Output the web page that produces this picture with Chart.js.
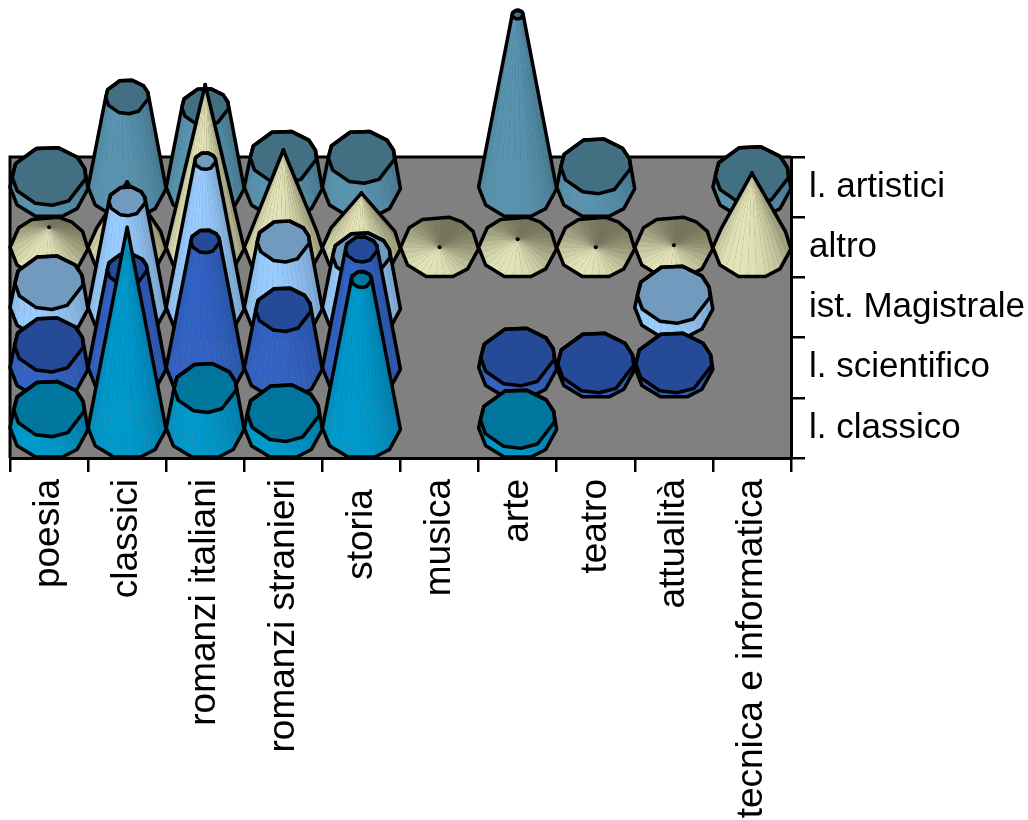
<!DOCTYPE html>
<html>
<head>
<meta charset="utf-8">
<title>Generi per scuola</title>
<script src="https://cdn.jsdelivr.net/npm/chart.js@4/dist/chart.umd.min.js"></script>
<style>
    html, body { margin: 0; padding: 0; background: #fff; overflow: hidden; }
    canvas { display: block; }
</style>
</head>
<body>
<canvas id="myChart" width="1028" height="820"></canvas>
<script>
const categories = ['poesia', 'classici', 'romanzi italiani', 'romanzi stranieri', 'storia ',
    'musica', 'arte', 'teatro', 'attualità', 'tecnica e informatica'];
const rows = ['l. artistici', 'altro', 'ist. Magistrale', 'l. scientifico', 'l. classico'];

// null = no cone at all, 0 = flat cone
const artistici   = [5.5, 45, 40, 15, 15, null, 86, 10.5, null, 6];
const altro       = [10, 32.5, 81, 48.5, 27, 0, 4, 0, 1, 37];
const magistrale  = [12.5, 53, 73, 33, 26, null, null, null, 6.5, null];
const scientifico = [11.5, 49, 63, 29, 59, null, 5.5, 2.5, 2.5, null];
const classico    = [9.5, 100, 20, 7.5, 74, null, 4.5, null, null, null];
const rowValues = [artistici, altro, magistrale, scientifico, classico];

// value at which a truncated cone would reach its tip
const coneMax = 100;

// light side, dark side, top cap
const palette = [
    { light: [88, 148, 176], dark: [62, 104, 124], cap: '#436f82' },
    { light: [228, 228, 184], dark: [116, 116, 90], cap: '#b8b890' },
    { light: [153, 204, 255], dark: [106, 142, 178], cap: '#729abf' },
    { light: [50, 98, 196], dark: [36, 76, 150], cap: '#254a97' },
    { light: [0, 153, 204], dark: [0, 108, 146], cap: '#00759e' }
];

// the polygon is rough, not a regular one
const baseAngles = [3, 44, 70, 110, 145, 180, 219, 244, 284, 306, 329];
const capAngles  = [5, 58, 85, 112, 150, 178, 205, 250, 284, 320, 345];

function ring(cx, cy, rx, ry, angles) {
    return angles.map(function (a) {
        const t = a * Math.PI / 180;
        return { x: cx + rx * Math.cos(t), y: cy + ry * Math.sin(t) };
    });
}

function lerp(a, b, t) {
    return { x: a.x + (b.x - a.x) * t, y: a.y + (b.y - a.y) * t };
}

function shade(col, deg) {
    const t = 0.5 + 0.5 * Math.cos((deg - 112) * Math.PI / 180);
    const c = col.dark.map(function (d, i) {
        return Math.round(d + (col.light[i] - d) * t);
    });
    return 'rgb(' + c.join(',') + ')';
}

function hull(points) {
    const p = points.slice().sort(function (a, b) { return a.x - b.x || a.y - b.y; });
    const cross = function (o, a, b) {
        return (a.x - o.x) * (b.y - o.y) - (a.y - o.y) * (b.x - o.x);
    };
    const lower = [], upper = [];
    p.forEach(function (q) {
        while (lower.length > 1 && cross(lower[lower.length - 2], lower[lower.length - 1], q) <= 0) lower.pop();
        lower.push(q);
    });
    p.slice().reverse().forEach(function (q) {
        while (upper.length > 1 && cross(upper[upper.length - 2], upper[upper.length - 1], q) <= 0) upper.pop();
        upper.push(q);
    });
    return lower.slice(0, -1).concat(upper.slice(0, -1));
}

function tracePolygon(ctx, pts) {
    ctx.beginPath();
    pts.forEach(function (p, i) {
        if (i === 0) ctx.moveTo(p.x, p.y); else ctx.lineTo(p.x, p.y);
    });
    ctx.closePath();
}

function drawCone(ctx, cx, cy, rx, ry, height, fraction, pointed, col) {
    const base = ring(cx, cy, rx, ry, baseAngles);
    const k = pointed ? 0 : 1 - fraction;
    const top = ring(cx, cy - height, rx * k, ry * k, capAngles);
    const n = base.length;
    const quads = [];
    for (let i = 0; i < n; i++) {
        const j = (i + 1) % n;
        const a0 = baseAngles[i];
        const a1 = j === 0 ? baseAngles[0] + 360 : baseAngles[j];
        for (let s = 0; s < 3; s++) {
            quads.push({
                mid: a0 + (a1 - a0) * (s + 0.5) / 3,
                pts: [lerp(base[i], base[j], s / 3), lerp(base[i], base[j], (s + 1) / 3),
                      lerp(top[i], top[j], (s + 1) / 3), lerp(top[i], top[j], s / 3)]
            });
        }
    }
    // back faces first
    quads.sort(function (a, b) {
        return Math.sin(a.mid * Math.PI / 180) - Math.sin(b.mid * Math.PI / 180);
    });
    quads.forEach(function (q) {
        tracePolygon(ctx, q.pts);
        ctx.fillStyle = shade(col, q.mid);
        ctx.fill();
    });
    if (!pointed) {
        tracePolygon(ctx, top);
        ctx.fillStyle = col.cap;
        ctx.fill();
    }
    ctx.strokeStyle = '#000';
    ctx.lineWidth = 3.5;
    ctx.lineJoin = 'round';
    tracePolygon(ctx, hull(base.concat(top)));
    ctx.stroke();
    if (pointed) {
        ctx.beginPath();
        ctx.arc(cx, cy - height, 2, 0, Math.PI * 2);
        ctx.fillStyle = '#000';
        ctx.fill();
    } else {
        tracePolygon(ctx, top);
        ctx.stroke();
    }
}

const conePlugin = {
    id: 'cones',
    beforeDraw: function (chart) {
        const area = chart.chartArea;
        chart.ctx.save();
        chart.ctx.fillStyle = '#808080';
        chart.ctx.fillRect(area.left, area.top, area.width, area.height);
        chart.ctx.restore();
    },
    afterDatasetsDraw: function (chart) {
        const ctx = chart.ctx;
        const area = chart.chartArea;
        const x = chart.scales.x;
        const y = chart.scales.y;
        const v = chart.scales.v;
        const rx = (x.getPixelForValue(1) - x.getPixelForValue(0)) * 0.5;
        const ry = (y.getPixelForValue(1) - y.getPixelForValue(0)) * 0.515;
        ctx.save();
        ctx.strokeStyle = '#000';
        ctx.lineWidth = 3;
        ctx.beginPath();
        ctx.moveTo(area.left, area.bottom);
        ctx.lineTo(area.left, area.top);
        ctx.lineTo(area.right, area.top);
        ctx.stroke();
        chart.data.datasets.forEach(function (ds, d) {
            const meta = chart.getDatasetMeta(d);
            ds.data.forEach(function (item, i) {
                if (item.v === null) return;
                const pt = meta.data[i];
                const h = v.getPixelForValue(0) - v.getPixelForValue(item.v);
                drawCone(ctx, pt.x, pt.y, rx, ry, h, item.v / coneMax, ds.pointed, palette[d]);
            });
        });
        ctx.restore();
    }
};

const ctx = document.getElementById('myChart').getContext('2d');
new Chart(ctx, {
    type: 'scatter',
    data: {
        datasets: rows.map(function (row, r) {
            return {
                label: row,
                pointRadius: 0,
                pointed: row === 'altro',
                data: categories.map(function (cat, i) {
                    return { x: cat, y: row, v: rowValues[r][i] };
                })
            };
        })
    },
    options: {
        responsive: false,
        animation: false,
        layout: { padding: { left: 10, top: 157, right: 0, bottom: 0 } },
        plugins: { legend: { display: false }, tooltip: { enabled: false } },
        scales: {
            x: {
                type: 'category',
                labels: categories,
                offset: true,
                afterFit: function (scale) { scale.height = 362; },
                border: { color: '#000', width: 3 },
                grid: { offset: true, drawOnChartArea: false, color: '#000', lineWidth: 2.5, tickLength: 14 },
                ticks: {
                    autoSkip: false, minRotation: 90, maxRotation: 90, padding: 7, color: '#000',
                    font: { family: 'Liberation Sans', size: 37 }
                }
            },
            y: {
                type: 'category',
                labels: rows,
                position: 'right',
                offset: true,
                afterFit: function (scale) { scale.width = 237; },
                border: { color: '#000', width: 3 },
                grid: { offset: true, drawOnChartArea: false, color: '#000', lineWidth: 2.5, tickLength: 14 },
                ticks: {
                    padding: 4, color: '#000',
                    font: { family: 'Liberation Sans', size: 35 }
                }
            },
            // cone heights only, never drawn
            v: { axis: 'y', type: 'linear', display: false, min: 0, max: 150 }
        }
    },
    plugins: [conePlugin]
});
</script>
</body>
</html>
